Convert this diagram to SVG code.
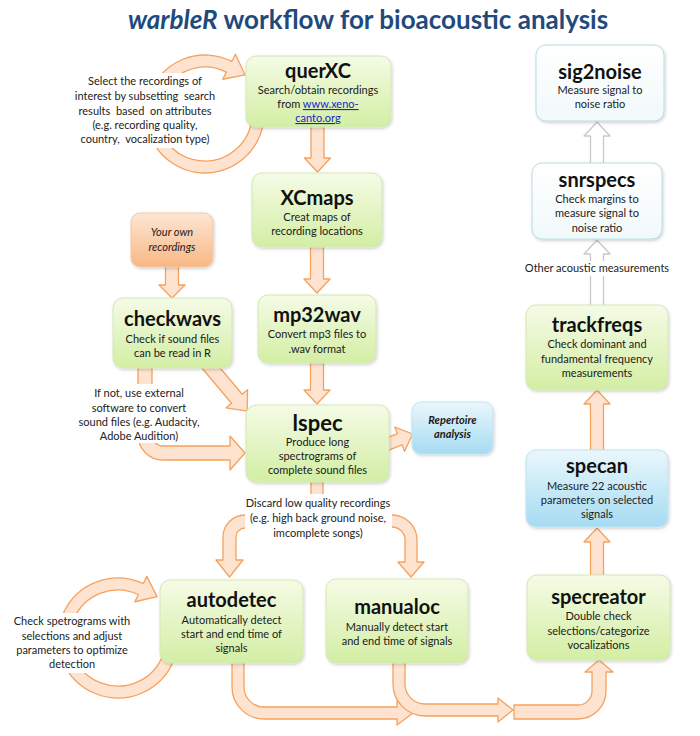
<svg xmlns="http://www.w3.org/2000/svg" width="700" height="736" viewBox="0 0 700 736">
<defs>
<linearGradient id="gGreen" x1="0" y1="0" x2="0" y2="1"><stop offset="0" stop-color="#f5fbe6"/><stop offset="1" stop-color="#d3eea4"/></linearGradient>
<linearGradient id="gOrange" x1="0" y1="0" x2="0" y2="1"><stop offset="0" stop-color="#fde6d4"/><stop offset="1" stop-color="#f8b784"/></linearGradient>
<linearGradient id="gBlue" x1="0" y1="0" x2="0" y2="1"><stop offset="0" stop-color="#eaf7fc"/><stop offset="1" stop-color="#a6dbf2"/></linearGradient>
<linearGradient id="gPale" x1="0" y1="0" x2="0" y2="1"><stop offset="0" stop-color="#ffffff"/><stop offset="1" stop-color="#f1f9fa"/></linearGradient>
<filter id="sh" x="-10%" y="-10%" width="130%" height="130%"><feDropShadow dx="1" dy="1.5" stdDeviation="1.5" flood-color="#000" flood-opacity="0.18"/></filter>
</defs>
<style>
text{font-family:Lato,"Open Sans","Liberation Sans",sans-serif;fill:#1a1a1a;text-anchor:middle}
.t{font-size:20px;font-weight:bold;fill:#111}
.s{font-size:11px}
.lbl{font-size:11px;fill:#222}
.box{stroke-width:1;filter:url(#sh)}
.green{fill:url(#gGreen);stroke:#d3e8b4}
.orange{fill:url(#gOrange);stroke:#f4c7a2}
.blue{fill:url(#gBlue);stroke:#bfe3f1}
.pale{fill:url(#gPale);stroke:#b7dce3}
.oa{fill:#fde3d0;stroke:#f5a25e;stroke-width:1.3;stroke-linejoin:round}
.ga{fill:#ffffff;stroke:#c6c9cb;stroke-width:1.3;stroke-linejoin:round}
.bg{fill:#ffffff}
.link{fill:#1a24c8;text-decoration:underline}
</style>
<rect width="700" height="736" fill="#ffffff"/>
<text x="368" y="29" style="font-size:26px;font-weight:bold;fill:#1f4a7c"><tspan font-style="italic">warbleR</tspan> workflow for bioacoustic analysis</text>

<g id="connectors">
<path class="oa" d="M 264 114 A 59 59 0 1 1 231.79 61.43 L 235.42 54.3 L 245.1 74.95 L 222.71 79.25 L 226.34 72.12 A 47 47 0 1 0 252 114 Z"/>
<path class="oa" d="M 311 122 H 324 V 158 H 330.5 L 317.5 172 L 304.5 158 H 311 Z"/>
<path class="oa" d="M 310.5 242 H 323.5 V 279 H 330 L 317 293 L 304 279 H 310.5 Z"/>
<path class="oa" d="M 310.5 358 H 323.5 V 390 H 330 L 317 404 L 304 390 H 310.5 Z"/>
<path class="oa" d="M 165.5 262 H 178.5 V 285 H 185 L 172 298 L 159 285 H 165.5 Z"/>
<path class="oa" transform="translate(206,362) rotate(-40)" d="M -7 0 H 7 V 48 H 14 L 0 64 L -14 48 H -7 Z"/>
<path class="oa" d="M 138 362 V 435 A 25 25 0 0 0 163 460 H 230 V 470 L 245 453 L 230 436 V 446 H 163 A 11 11 0 0 1 152 435 V 362 Z"/>
<path class="oa" transform="translate(383,446) rotate(-112)" d="M -6 0 H 6 V 18 H 13 L 0 32 L -13 18 H -6 Z"/>
<path class="oa" d="M 311 475 H 323 V 500 H 311 Z"/>
<path class="oa" d="M 252 515 H 245 A 22 22 0 0 0 223 537 V 560 H 216 L 229.5 577 L 243 560 H 236 V 537 A 9 9 0 0 1 245 528 H 252 Z"/>
<path class="oa" d="M 385 515 H 392 A 25 25 0 0 1 417 540 V 562 H 424 L 411 577 L 398 562 H 405 V 540 A 13 13 0 0 0 392 527 H 385 Z"/>
<path class="oa" d="M 174.38 658.52 A 60 60 0 1 1 143.36 583.62 L 146.74 576.37 L 157.13 596.67 L 134.9 601.75 L 138.28 594.5 A 48 48 0 1 0 163.11 654.42 Z"/>
<path class="oa" d="M 232 655 V 687 A 32 32 0 0 0 264 719 H 397 V 725 L 413 713 L 397 701 V 707 H 264 A 20 20 0 0 1 244 687 V 655 Z"/>
<path class="oa" d="M 393 655 V 684 A 32 32 0 0 0 425 716 H 498 V 722 L 513 710 L 498 698 V 704 H 425 A 20 20 0 0 1 405 684 V 655 Z"/>
<path class="oa" d="M 514 705 V 719 H 578 A 28 28 0 0 0 606 691 V 672 H 613 L 599 660 L 585 672 H 592 V 691 A 14 14 0 0 1 578 705 Z"/>
<path class="oa" d="M 590.5 580 H 603.5 V 542 H 610 L 597 528 L 584 542 H 590.5 Z"/>
<path class="oa" d="M 590.5 455 H 603.5 V 404 H 610 L 597 390 L 584 404 H 590.5 Z"/>
<path class="ga" d="M 590.5 310 H 603.5 V 254 H 610 L 597 240 L 584 254 H 590.5 Z"/>
<path class="ga" d="M 590.5 168 H 603.5 V 136 H 610 L 597 122 L 584 136 H 590.5 Z"/>
</g>

<g id="labels">
<rect class="bg" x="72" y="73" width="147" height="75"/>
<text class="lbl" x="145" y="85">Select the recordings of</text>
<text class="lbl" x="145" y="100" xml:space="preserve">interest by subsetting  search</text>
<text class="lbl" x="145" y="115" xml:space="preserve">results  based  on attributes</text>
<text class="lbl" x="145" y="129">(e.g. recording quality,</text>
<text class="lbl" x="145" y="143" xml:space="preserve">country,  vocalization type)</text>
<rect class="bg" x="76" y="384" width="127" height="59"/>
<text class="lbl" x="139" y="397">If not, use external</text>
<text class="lbl" x="139" y="412">software to convert</text>
<text class="lbl" x="139" y="426">sound files (e.g. Audacity,</text>
<text class="lbl" x="139" y="440">Adobe Audition)</text>
<rect class="bg" x="245" y="494" width="147" height="47"/>
<text class="lbl" x="318" y="507">Discard low quality recordings</text>
<text class="lbl" x="318" y="522">(e.g. high back ground noise,</text>
<text class="lbl" x="318" y="537">imcomplete songs)</text>
<rect class="bg" x="10" y="613" width="124" height="60"/>
<text class="lbl" x="72" y="625">Check spetrograms with</text>
<text class="lbl" x="72" y="640">selections and adjust</text>
<text class="lbl" x="72" y="654">parameters to optimize</text>
<text class="lbl" x="72" y="668">detection</text>
<rect class="bg" x="521" y="261" width="152" height="15"/>
<text class="lbl" x="597" y="272">Other acoustic measurements</text>
</g>

<g id="querXC">
<rect class="box green" x="246" y="56" width="145" height="71" rx="10"/>
<text class="t" x="318" y="78">querXC</text>
<text class="s" x="318" y="94">Search/obtain recordings</text>
<text class="s" x="318" y="108">from <tspan class="link">www.xeno-</tspan></text>
<text class="s link" x="318" y="122">canto.org</text>
</g>
<g id="XCmaps">
<rect class="box green" x="252" y="173" width="130" height="74" rx="10"/>
<text class="t" x="317" y="205">XCmaps</text>
<text class="s" x="317" y="221">Creat maps of</text>
<text class="s" x="317" y="235">recording locations</text>
</g>
<g id="own">
<rect class="box orange" x="131" y="213" width="82" height="54" rx="9"/>
<text class="s" x="172" y="236" font-style="italic">Your own</text>
<text class="s" x="172" y="251" font-style="italic">recordings</text>
</g>
<g id="checkwavs">
<rect class="box green" x="113" y="298" width="119" height="70" rx="10"/>
<text class="t" x="172.5" y="326">checkwavs</text>
<text class="s" x="172.5" y="343">Check if sound files</text>
<text class="s" x="172.5" y="357">can be read in R</text>
</g>
<g id="mp32wav">
<rect class="box green" x="258" y="295" width="118" height="68" rx="10"/>
<text class="t" x="317" y="322">mp32wav</text>
<text class="s" x="317" y="338">Convert mp3 files to</text>
<text class="s" x="317" y="353">.wav format</text>
</g>
<g id="lspec">
<rect class="box green" x="246" y="405" width="143" height="77" rx="10"/>
<text class="t" x="317.5" y="431" style="font-size:22px">lspec</text>
<text class="s" x="317.5" y="446">Produce long</text>
<text class="s" x="317.5" y="460">spectrograms of</text>
<text class="s" x="317.5" y="474">complete sound files</text>
</g>
<g id="repertoire">
<rect class="box blue" x="412" y="402" width="81" height="52" rx="9"/>
<text class="s" x="452.5" y="424" font-weight="bold" font-style="italic">Repertoire</text>
<text class="s" x="452.5" y="438" font-weight="bold" font-style="italic">analysis</text>
</g>
<g id="autodetec">
<rect class="box green" x="160" y="580" width="143" height="83" rx="10"/>
<text class="t" x="231.5" y="607">autodetec</text>
<text class="s" x="231.5" y="624">Automatically detect</text>
<text class="s" x="231.5" y="638">start and end time of</text>
<text class="s" x="231.5" y="652">signals</text>
</g>
<g id="manualoc">
<rect class="box green" x="326" y="579" width="142" height="84" rx="10"/>
<text class="t" x="397" y="614">manualoc</text>
<text class="s" x="397" y="631">Manually detect start</text>
<text class="s" x="397" y="645">and end time of signals</text>
</g>
<g id="specreator">
<rect class="box green" x="527" y="575" width="143" height="85" rx="10"/>
<text class="t" x="598.5" y="604">specreator</text>
<text class="s" x="598.5" y="620">Double check</text>
<text class="s" x="598.5" y="635">selections/categorize</text>
<text class="s" x="598.5" y="649">vocalizations</text>
</g>
<g id="specan">
<rect class="box blue" x="526" y="450" width="142" height="77" rx="10"/>
<text class="t" x="597" y="473">specan</text>
<text class="s" x="597" y="490">Measure 22 acoustic</text>
<text class="s" x="597" y="504">parameters on selected</text>
<text class="s" x="597" y="518">signals</text>
</g>
<g id="trackfreqs">
<rect class="box green" x="526" y="305" width="142" height="85" rx="10"/>
<text class="t" x="597" y="332">trackfreqs</text>
<text class="s" x="597" y="348">Check dominant and</text>
<text class="s" x="597" y="363">fundamental frequency</text>
<text class="s" x="597" y="377">measurements</text>
</g>
<g id="snrspecs">
<rect class="box pale" x="532" y="163" width="130" height="76" rx="10"/>
<text class="t" x="597" y="187">snrspecs</text>
<text class="s" x="597" y="203">Check margins to</text>
<text class="s" x="597" y="217">measure signal to</text>
<text class="s" x="597" y="232">noise ratio</text>
</g>
<g id="sig2noise">
<rect class="box pale" x="536" y="45" width="128" height="76" rx="10"/>
<text class="t" x="600" y="79">sig2noise</text>
<text class="s" x="600" y="94">Measure signal to</text>
<text class="s" x="600" y="108">noise ratio</text>
</g>
</svg>
